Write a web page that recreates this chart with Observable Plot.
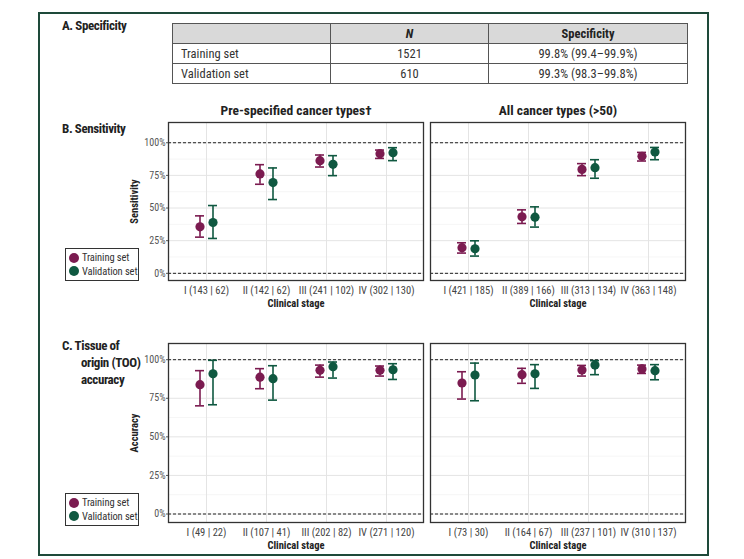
<!DOCTYPE html>
<html><head><meta charset="utf-8">
<script src="https://cdn.jsdelivr.net/npm/d3@7"></script>
<script src="https://cdn.jsdelivr.net/npm/@observablehq/plot@0.6"></script>
<style>
body{margin:0;background:#fff;}
#root{position:relative;width:744px;height:559px;overflow:hidden;font-family:"Liberation Sans Narrow","Roboto Condensed","DejaVu Sans Condensed","Arial Narrow",sans-serif;color:#222;}
.frame{position:absolute;left:38px;top:12px;width:667px;height:540px;border:2px solid #1e4a3a;}
.title{position:absolute;font-weight:bold;font-size:13px;line-height:17px;color:#222;white-space:nowrap;letter-spacing:-0.4px;}
.title .ind{padding-left:19px;}
table.spec{position:absolute;left:172px;top:23px;border-collapse:collapse;font-size:12.5px;color:#333;}
table.spec td, table.spec th{border:1px solid #555;height:19px;padding:0 8px;line-height:19px;}
table.spec th{background:#d9d9d9;font-weight:bold;color:#222;}
.legend{position:absolute;left:65px;width:74px;border:1px solid #333;background:#fff;font-size:10.5px;color:#333;padding:2px 0 2px 3px;box-sizing:border-box;white-space:nowrap;letter-spacing:-0.1px;}
.legend .row{display:flex;align-items:center;height:13.5px;}
.legend .dot{width:10px;height:10px;border-radius:50%;margin-right:3px;display:inline-block;flex:none;}
.plot{position:absolute;left:0;}
</style></head>
<body><div id="root"></div>
<script>
const FONT = '"Liberation Sans Narrow","Roboto Condensed","DejaVu Sans Condensed","Arial Narrow",sans-serif';

// ---- Data ----
const stages = ["I","II","III","IV"];
const facetKeys = ["pre","all"];
const facetTitles = ["Pre-specified cancer types\u2020","All cancer types (>50)"];
const sets = ["Training set","Validation set"];
const setColors = ["#7b1b50","#0f5840"];

const specRows = ["Training set","Validation set"];
const specN = ["1521","610"];
const specValues = ["99.8% (99.4\u201399.9%)","99.3% (98.3\u201399.8%)"];

const labelsSensPre = ["I (143 | 62)","II (142 | 62)","III (241 | 102)","IV (302 | 130)"];
const labelsSensAll = ["I (421 | 185)","II (389 | 166)","III (313 | 134)","IV (363 | 148)"];
const labelsTooPre = ["I (49 | 22)","II (107 | 41)","III (202 | 82)","IV (271 | 120)"];
const labelsTooAll = ["I (73 | 30)","II (164 | 67)","III (237 | 101)","IV (310 | 137)"];

// Sensitivity (%)
const sensPreTrain = [35.6, 76.1, 86.3, 91.6];
const sensPreTrainLo = [27.7, 68.2, 81.4, 88.0];
const sensPreTrainHi = [44.0, 83.2, 90.6, 94.4];
const sensPreValid = [38.9, 69.5, 83.5, 92.4];
const sensPreValidLo = [26.7, 56.5, 74.8, 86.3];
const sensPreValidHi = [51.9, 80.7, 90.1, 96.2];
const sensAllTrain = [19.6, 43.3, 79.6, 89.6];
const sensAllTrainLo = [15.5, 38.2, 74.8, 86.0];
const sensAllTrainHi = [23.4, 48.6, 84.0, 92.6];
const sensAllValid = [18.8, 43.0, 80.9, 92.9];
const sensAllValidLo = [13.2, 35.4, 72.8, 87.0];
const sensAllValidHi = [24.9, 50.9, 87.0, 96.4];

// TOO accuracy (%)
const tooPreTrain = [83.8, 88.7, 93.1, 93.1];
const tooPreTrainLo = [70.1, 81.2, 88.7, 89.4];
const tooPreTrainHi = [92.9, 94.2, 96.5, 95.9];
const tooPreValid = [90.9, 87.7, 95.5, 93.5];
const tooPreValidLo = [70.8, 73.8, 88.1, 87.2];
const tooPreValidHi = [99.6, 96.1, 98.5, 97.4];
const tooAllTrain = [84.9, 90.3, 93.3, 94.0];
const tooAllTrainLo = [74.5, 84.7, 89.4, 91.1];
const tooAllTrainHi = [92.2, 94.4, 96.3, 96.5];
const tooAllValid = [90.1, 90.9, 96.5, 92.9];
const tooAllValidLo = [73.4, 81.4, 90.3, 87.0];
const tooAllValidHi = [97.8, 96.8, 99.4, 96.8];

const majorTicks = [0, 25, 50, 75, 100];
const minorTicks = [12.5, 37.5, 62.5, 87.5];

// ---- Build tables ----
function rows(facet, set, est, lo, hi) {
  return stages.map((s, i) => ({facet, set, stage: s, est: est[i], lo: lo[i], hi: hi[i]}));
}
function labelRows(facet, labels) {
  return stages.map((s, i) => ({facet, stage: s, label: labels[i]}));
}
const sensData = [
  ...rows("pre", sets[0], sensPreTrain, sensPreTrainLo, sensPreTrainHi),
  ...rows("pre", sets[1], sensPreValid, sensPreValidLo, sensPreValidHi),
  ...rows("all", sets[0], sensAllTrain, sensAllTrainLo, sensAllTrainHi),
  ...rows("all", sets[1], sensAllValid, sensAllValidLo, sensAllValidHi)
];
const tooData = [
  ...rows("pre", sets[0], tooPreTrain, tooPreTrainLo, tooPreTrainHi),
  ...rows("pre", sets[1], tooPreValid, tooPreValidLo, tooPreValidHi),
  ...rows("all", sets[0], tooAllTrain, tooAllTrainLo, tooAllTrainHi),
  ...rows("all", sets[1], tooAllValid, tooAllValidLo, tooAllValidHi)
];
const sensLabels = [...labelRows("pre", labelsSensPre), ...labelRows("all", labelsSensAll)];
const tooLabels = [...labelRows("pre", labelsTooPre), ...labelRows("all", labelsTooAll)];

function panel({data, labels, height, marginTop, yDomain, yLabel, titles}) {
  const dodge = [-6.5, 6.5];
  const seriesMarks = sets.flatMap((set, k) => {
    const d = data.filter(r => r.set === set);
    const c = setColors[k];
    return [
      Plot.ruleX(d, {x: "stage", y1: "lo", y2: "hi", fx: "facet", stroke: c, strokeWidth: 1.6, dx: dodge[k]}),
      Plot.ruleY(d, {x1: "stage", x2: "stage", y: "lo", fx: "facet", stroke: c, strokeWidth: 1.6, insetLeft: -4.5, insetRight: -4.5, dx: dodge[k]}),
      Plot.ruleY(d, {x1: "stage", x2: "stage", y: "hi", fx: "facet", stroke: c, strokeWidth: 1.6, insetLeft: -4.5, insetRight: -4.5, dx: dodge[k]}),
      Plot.dot(d, {x: "stage", y: "est", fx: "facet", r: 4.6, fill: c, stroke: "none", dx: dodge[k]})
    ];
  });
  const marks = [
    Plot.ruleY(minorTicks, {stroke: "#f1f1f1", strokeWidth: 0.7}),
    Plot.ruleY(majorTicks, {stroke: "#e4e4e4", strokeWidth: 1}),
    Plot.ruleX(stages, {stroke: "#e4e4e4", strokeWidth: 1}),
    Plot.ruleY([0, 100], {stroke: "#222", strokeWidth: 1, strokeDasharray: "3,2"}),
    ...seriesMarks,
    Plot.frame({stroke: "#333", strokeWidth: 1.3}),
    Plot.text(labels, {x: "stage", fx: "facet", text: "label", frameAnchor: "bottom", lineAnchor: "middle", dy: 10, fill: "#444", fontSize: 10.5}),
    Plot.text(facetKeys, {fx: d => d, text: () => "Clinical stage", frameAnchor: "bottom", lineAnchor: "middle", textAnchor: "middle", dy: 23, fill: "#222", fontWeight: "bold", fontSize: 10.5}),
    Plot.text([facetKeys[0]], {fx: d => d, text: () => yLabel, frameAnchor: "left", textAnchor: "middle", lineAnchor: "middle", rotate: -90, dx: -34, fill: "#222", fontWeight: "bold", fontSize: 10.5})
  ];
  if (titles) {
    marks.push(Plot.text(facetKeys, {fx: d => d, text: d => titles[facetKeys.indexOf(d)], frameAnchor: "top", lineAnchor: "middle", textAnchor: "middle", dy: -12, fill: "#222", fontWeight: "bold", fontSize: 13.5}));
  }
  return Plot.plot({
    width: 744, height, marginLeft: 168, marginRight: 59, marginTop, marginBottom: 30,
    style: {fontFamily: FONT, fontSize: "10px", background: "transparent", color: "#555", overflow: "visible"},
    fx: {domain: facetKeys, paddingInner: 0.027, paddingOuter: 0, axis: null, label: null},
    x: {type: "point", domain: stages, padding: 0.6, axis: null},
    y: {domain: yDomain, axis: "left", ticks: majorTicks, tickFormat: d => d + "%", tickSize: 2, tickPadding: 1, label: null},
    marks
  });
}

const root = document.getElementById("root");
root.insertAdjacentHTML("beforeend", `<div class="frame"></div>
<div class="title" style="left:62px;top:17px;">A. Specificity</div>
<div class="title" style="left:62px;top:120px;">B. Sensitivity</div>
<div class="title" style="left:62px;top:337px;">C. Tissue of<br><span class="ind">origin (TOO)</span><br><span class="ind">accuracy</span></div>`);

// Specificity table
const tbl = document.createElement("table");
tbl.className = "spec";
let html = `<tr><th style="width:141px"></th><th style="width:141px"><i>N</i></th><th style="width:182px">Specificity</th></tr>`;
specRows.forEach((r, i) => {
  html += `<tr><td style="text-align:left">${r}</td><td style="text-align:center">${specN[i]}</td><td style="text-align:center">${specValues[i]}</td></tr>`;
});
tbl.innerHTML = html;
root.appendChild(tbl);

const pB = panel({data: sensData, labels: sensLabels, height: 210, marginTop: 22, yDomain: [-5.5, 115.5], yLabel: "Sensitivity", titles: facetTitles});
pB.classList.add("plot"); pB.style.top = "100px";
root.appendChild(pB);

const pC = panel({data: tooData, labels: tooLabels, height: 219, marginTop: 10, yDomain: [-5.5, 110.5], yLabel: "Accuracy", titles: null});
pC.classList.add("plot"); pC.style.top = "333px";
root.appendChild(pC);

function legend(top) {
  const div = document.createElement("div");
  div.className = "legend";
  div.style.top = top + "px";
  div.innerHTML = sets.map((s, k) => `<div class="row"><span class="dot" style="background:${setColors[k]}"></span>${s}</div>`).join("");
  root.appendChild(div);
}
legend(248);
legend(493);
</script>
</body></html>
